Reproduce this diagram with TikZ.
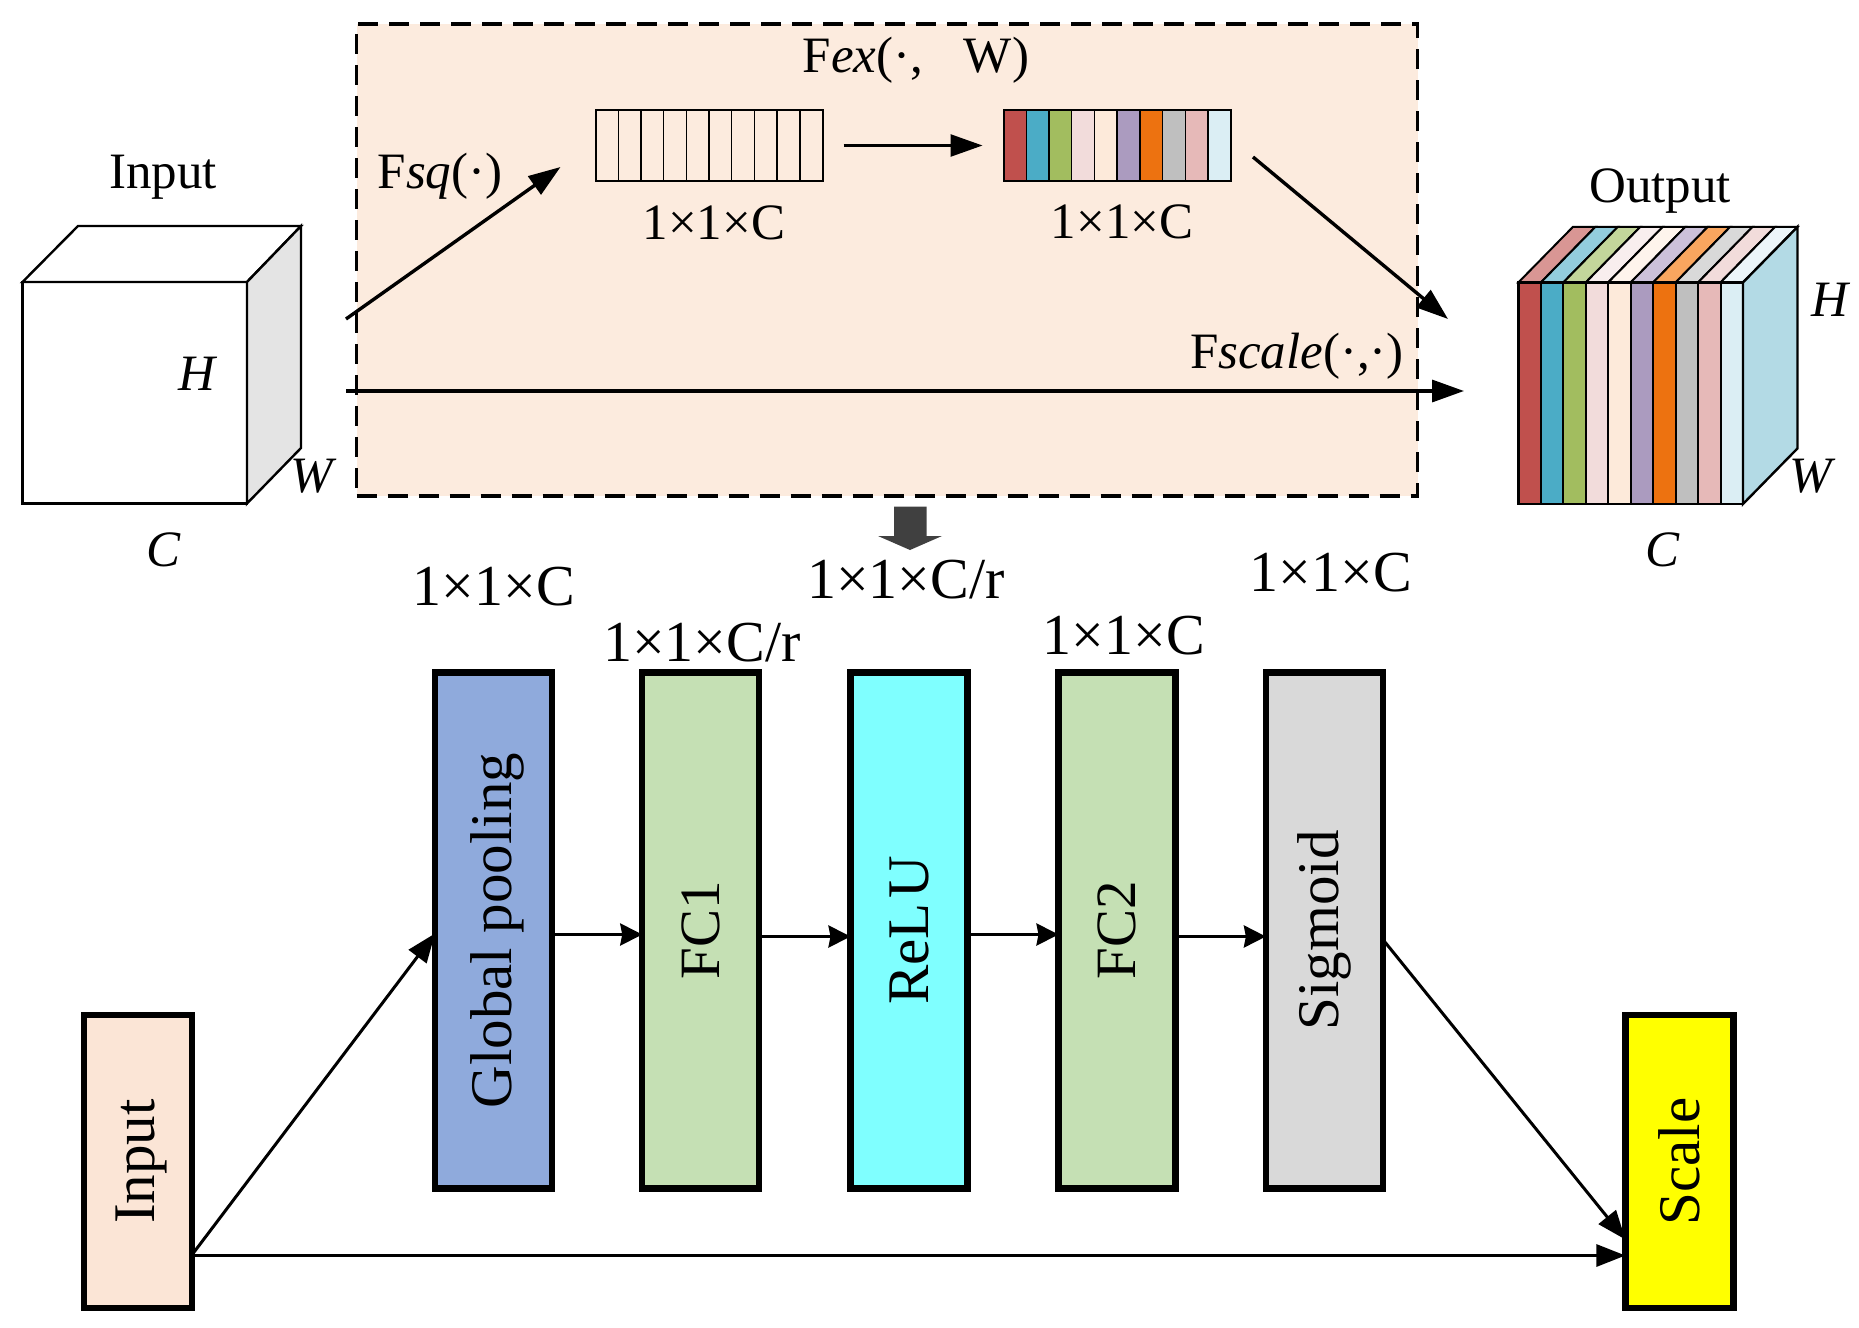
\documentclass[tikz,border=0pt]{standalone}
\usepackage{fontspec}
\setmainfont{Liberation Serif}
\usetikzlibrary{calc, arrows.meta}

\definecolor{panel}{HTML}{FCEBDE}
\definecolor{inputfill}{HTML}{FBE5D6}
\definecolor{poolfill}{HTML}{8FAADC}
\definecolor{fcfill}{HTML}{C5E0B4}
\definecolor{relufill}{HTML}{7FFFFF}
\definecolor{sigfill}{HTML}{D9D9D9}
\definecolor{scalefill}{HTML}{FFFF00}
\definecolor{downfill}{HTML}{404040}
\definecolor{sidegray}{HTML}{E4E4E4}
\definecolor{sideblue}{HTML}{B3DAE5}
% bandes : face avant
\definecolor{fa}{HTML}{C0504D}
\definecolor{fb}{HTML}{4BACC6}
\definecolor{fc}{HTML}{A2BD5F}
\definecolor{fd}{HTML}{F2DCDB}
\definecolor{fe}{HTML}{FDEADA}
\definecolor{ff}{HTML}{AB9BBF}
\definecolor{fg}{HTML}{ED7210}
\definecolor{fh}{HTML}{BFBFBF}
\definecolor{fi}{HTML}{E6B9B8}
\definecolor{fj}{HTML}{DBEEF4}
% bandes : dessus
\definecolor{ta}{HTML}{D99694}
\definecolor{tb}{HTML}{93CDDD}
\definecolor{tc}{HTML}{C3D69B}
\definecolor{td}{HTML}{F8EEEE}
\definecolor{te}{HTML}{FEF4EC}
\definecolor{tf}{HTML}{CCC1DA}
\definecolor{tg}{HTML}{F9A65F}
\definecolor{th}{HTML}{D9D9D9}
\definecolor{ti}{HTML}{F2DCDB}
\definecolor{tj}{HTML}{ECF5F9}

\newcommand{\dimlab}[1]{1×1×#1}

\tikzset{
	blockbox/.style={draw, line width=3.2pt, inner sep=0pt, outer sep=0pt, minimum width=58.5pt, minimum height=258pt, font=\fontsize{29.5}{30}\selectfont},
	endbox/.style={blockbox, minimum width=54pt, minimum height=146.5pt, font=\fontsize{29.5}{30}\selectfont},
	toplab/.style={font=\fontsize{25.5}{28}\selectfont, inner sep=0pt},
	dimtop/.style={font=\fontsize{25.5}{28}\selectfont, inner sep=0pt},
	dimlow/.style={font=\fontsize{29}{30}\selectfont, inner sep=0pt},
	bigarrow/.style={-{Stealth[length=16pt, width=11pt, inset=0pt]}, line width=1.7pt},
	midarrow/.style={-{Stealth[length=11pt, width=11pt, inset=1pt]}, line width=1.7pt},
	longarrow/.style={-{Stealth[length=14.5pt, width=11pt, inset=0pt]}, line width=1.5pt}
}

\begin{document}
\begin{tikzpicture}[x=0.5pt, y=-0.5pt]
	\useasboundingbox (0,0) rectangle (1859,1328);

	% cadre
	\node (panelbox) [draw, fill=panel, line width=1.7pt, dash pattern=on 10pt off 5.5pt, inner sep=0pt, outer sep=0pt, minimum width=530.5pt, minimum height=236pt] at (887,260) {};

	% cube entree
	\node (incube) [draw, fill=white, line width=1.2pt, inner sep=0pt, outer sep=0pt, minimum width=112.25pt, minimum height=110.75pt] at (134.75,392.75) {};
	\coordinate (inback) at (301,226);
	\draw[line width=1.2pt, fill=white] (incube.north west) -- (78,226) -- (inback) -- (incube.north east) -- cycle;
	\draw[line width=1.2pt, fill=sidegray] (incube.north east) -- (inback) -- (301,448) -- (incube.south east) -- cycle;

	% bande vide
	\node (sqstrip) [draw, line width=1pt, inner sep=0pt, outer sep=0pt, minimum width=113.5pt, minimum height=35.7pt] at (709,145.7) {};
	\foreach \i in {1,...,9}
		\draw[line width=0.7pt] ($(sqstrip.north west)+(\i*22.7,0)$) -- ($(sqstrip.south west)+(\i*22.7,0)$);

	% bande couleurs
	\node (exstrip) [inner sep=0pt, outer sep=0pt, minimum width=113.6pt, minimum height=35.4pt] at (1117.1,145.6) {};
	\foreach \i/\col in {0/fa,1/fb,2/fc,3/fd,4/fe,5/ff,6/fg,7/fh,8/fi,9/fj}
		\draw[line width=0.7pt, fill=\col] ($(exstrip.north west)+(\i*22.72,0)$) rectangle ($(exstrip.south west)+(\i*22.72+22.72,0)$);
	\draw[line width=1pt] (exstrip.north west) rectangle (exstrip.south east);

	% cube sortie
	\node (outcube) [inner sep=0pt, outer sep=0pt, minimum width=112.3pt, minimum height=110.8pt] at (1630.7,393.2) {};
	\foreach \i/\cf/\ct in {0/fa/ta,1/fb/tb,2/fc/tc,3/fd/td,4/fe/te,5/ff/tf,6/fg/tg,7/fh/th,8/fi/ti,9/fj/tj} {
		\draw[line width=1pt, fill=\cf] ($(outcube.north west)+(\i*22.46,0)$) rectangle ($(outcube.south west)+(\i*22.46+22.46,0)$);
		\draw[line width=1pt, fill=\ct] ($(outcube.north west)+(\i*22.46,0)$) -- ++(54.5,-55.5) -- ++(22.46,0) -- ++(-54.5,55.5) -- cycle;
	}
	\draw[line width=1.2pt, fill=sideblue] (outcube.north east) -- ++(54.5,-55.5) -- ++(0,221.5) -- (outcube.south east) -- cycle;
	\draw[line width=1.2pt] (outcube.north west) rectangle (outcube.south east);

	% textes du haut
	\node (inlab) [toplab] at (163,177) {Input};
	\node (outlab) [toplab] at (1660,191) {Output};
	\node (fsqlab) [toplab] at (440,176) {F\textit{sq}(·)};
	\node (fexlab) [toplab] at (916,60) {F\textit{ex}(·,\hspace{0.8em}W)};
	\node (fscalelab) [toplab] at (1297,356) {F\textit{scale}(·,·)};
	\node (sqdim) [dimtop] at (714,223) {\dimlab{C}};
	\node (exdim) [dimtop] at (1122,222) {\dimlab{C}};
	\node (hin) [toplab] at (198,374) {\textit{H}};
	\node (win) [toplab] at (313.5,476) {\textit{W}};
	\node (cin) [toplab] at (164,550) {\textit{C}};
	\node (hout) [toplab] at (1831,300) {\textit{H}};
	\node (wout) [toplab] at (1813,476) {\textit{W}};
	\node (cout) [toplab] at (1663,550) {\textit{C}};

	% fleches du haut
	\coordinate (sqin) at (346,319);
	\coordinate (sqout) at (560.5,167);
	\coordinate (exin) at (843.5,145.5);
	\coordinate (exout) at (982.5,145.5);
	\coordinate (scin) at (1253,157);
	\coordinate (scout) at (1448,319);
	\coordinate (stin) at (346,391);
	\coordinate (stout) at (1464,391);
	\draw[bigarrow] (sqin) -- (sqout);
	\draw[bigarrow, line width=1.3pt] (exin) -- (exout);
	\draw[bigarrow] (scin) -- (scout);
	\draw[bigarrow] (stin) -- (stout);

	% grosse fleche
	\fill[downfill] (894,506.5) -- (926.5,506.5) -- (926.5,536) -- (942,536) -- (910,550) -- (878,536) -- (894,536) -- cycle;

	% blocs
	\node (inputbox) [endbox, fill=inputfill] at (138.25,1161.5) {\hspace*{3.5pt}\rotatebox{90}{Input}};
	\node (poolbox) [blockbox, fill=poolfill] at (493.5,930.5) {\hspace*{3.5pt}\rotatebox{90}{Global pooling}};
	\node (fconebox) [blockbox, fill=fcfill, font=\fontsize{28.5}{30}\selectfont] at (700.75,930.5) {\rotatebox{90}{FC1}};
	\node (relubox) [blockbox, fill=relufill] at (909,930.5) {\rotatebox{90}{ReL\kern.08em U}};
	\node (fctwobox) [blockbox, fill=fcfill, font=\fontsize{28.5}{30}\selectfont] at (1117,930.5) {\rotatebox{90}{FC2}};
	\node (sigbox) [blockbox, fill=sigfill] at (1324.4,930.5) {\rotatebox{90}{Sigmoid}};
	\node (scalebox) [endbox, fill=scalefill] at (1679.4,1161.5) {\rotatebox{90}{Scale}};

	% dimensions
	\node (pooldim) [dimlow] at (494,587) {\dimlab{C}};
	\node (fconedim) [dimlow] at (702,643) {\dimlab{C/r}};
	\node (reludim) [dimlow] at (906,580) {\dimlab{C/r}};
	\node (fctwodim) [dimlow] at (1124,635.5) {\dimlab{C}};
	\node (sigdim) [dimlow] at (1331,573) {\dimlab{C}};

	% fleches des blocs
	\draw[longarrow] ([yshift=-46.5pt]inputbox.east) -- ([yshift=-1.5pt]poolbox.west);
	\draw[longarrow] ([yshift=-47pt]inputbox.east) -- ([yshift=-47pt]scalebox.west);
	\draw[midarrow] ([yshift=-2pt]poolbox.east) -- ([yshift=-2pt]fconebox.west);
	\draw[midarrow] ([yshift=-3pt]fconebox.east) -- ([yshift=-3pt]relubox.west);
	\draw[midarrow] ([yshift=-2pt]relubox.east) -- ([yshift=-2pt]fctwobox.west);
	\draw[midarrow] ([yshift=-3pt]fctwobox.east) -- ([yshift=-3pt]sigbox.west);
	\draw[longarrow] ([yshift=-4.5pt]sigbox.east) -- ([yshift=-39pt]scalebox.west);
\end{tikzpicture}
\end{document}
